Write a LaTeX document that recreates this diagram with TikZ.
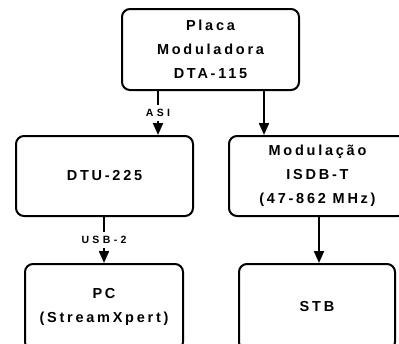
\documentclass[tikz,border=0pt]{standalone}
\usepackage{fontspec}
\setmainfont{Liberation Sans}[LetterSpace=19]
\newfontfamily\lblfont{Liberation Sans}[LetterSpace=32]
\usetikzlibrary{arrows.meta}
\begin{document}
\begin{tikzpicture}[x=1pt,y=-1pt,
  box/.style={draw, line width=2pt, rounded corners=8pt, minimum width=#1,
    minimum height=80pt, align=center, inner sep=0pt,
    font=\fontsize{14.5}{24}\selectfont\bfseries},
  conn/.style={line width=2pt, -{Triangle[width=10pt,length=12pt]}},
  lbl/.style={fill=white, inner xsep=2pt, inner ysep=4.5pt,
    font=\lblfont\fontsize{10.5}{12}\selectfont\bfseries}]
\useasboundingbox (0,0) rectangle (399,343);
\clip (0,0) rectangle (399,343);
\node[box=177pt, minimum height=81pt] (top) at (210.5,49.5) {Placa\\Moduladora\\DTA-115};
\node[box=177pt] (dtu) at (104.5,176) {DTU-225};
\node[box=177pt] (mod) at (317.5,176) {Modulação\\ISDB-T\\(47-862 MHz)};
\node[box=158pt, minimum height=86pt] (pc) at (104,307) {PC\\(StreamXpert)};
\node[box=156pt, minimum height=86pt] (stb) at (317,307) {STB};
\coordinate (xasi) at (158,0);
\coordinate (xmod) at (264,0);
\coordinate (xusb) at (104,0);
\coordinate (xstb) at (319,0);
\draw[conn] (top.south -| xasi) -- node[lbl]{ASI} (dtu.north -| xasi);
\draw[conn] (top.south -| xmod) -- (mod.north -| xmod);
\draw[conn] (dtu.south -| xusb) -- node[lbl]{USB-2} (pc.north -| xusb);
\draw[conn] (mod.south -| xstb) -- (stb.north -| xstb);
\end{tikzpicture}
\end{document}
